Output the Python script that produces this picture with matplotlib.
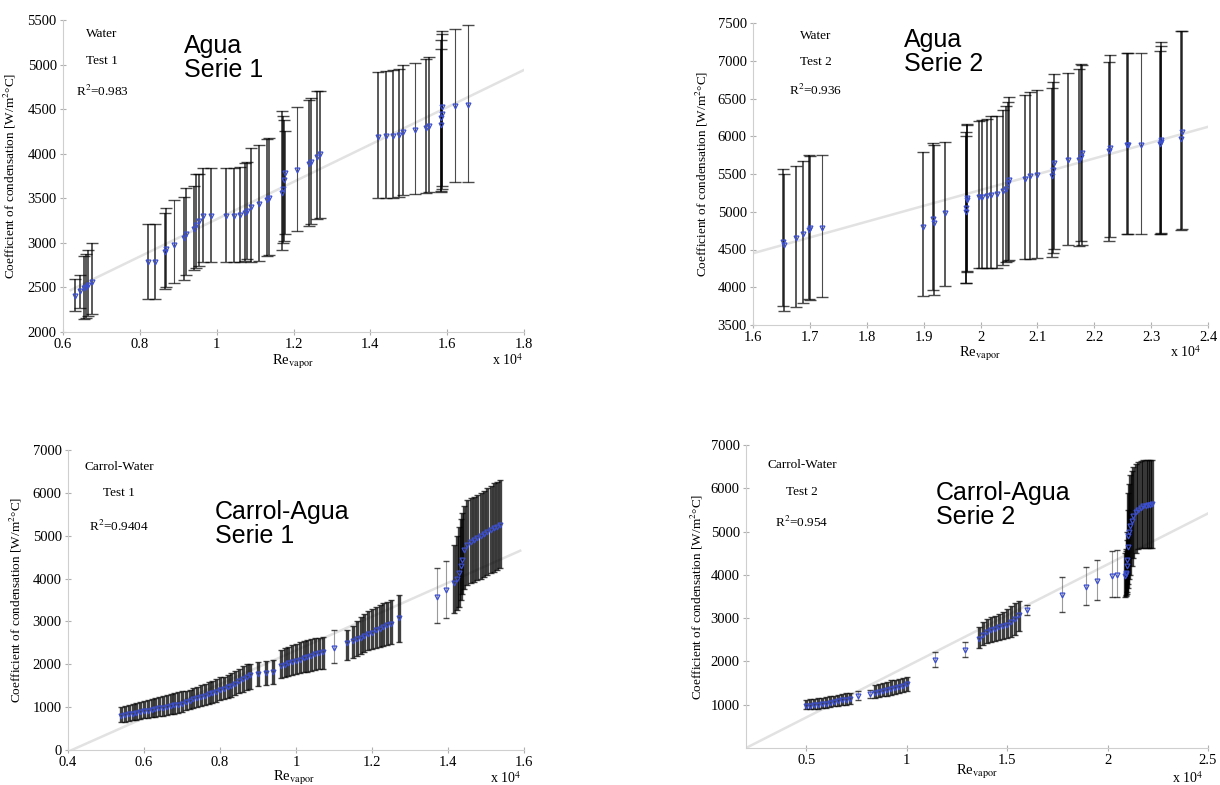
import numpy as np
import matplotlib.pyplot as plt

# Re_vapor values are in units of 1e4, h in W/m2C

# Water, test 1
re_w1 = [0.630, 0.645, 0.655, 0.660, 0.665, 0.675,
         0.820, 0.840, 0.865, 0.867, 0.890, 0.915, 0.920, 0.940, 0.945, 0.955, 0.965, 0.985,
         1.025, 1.045, 1.060, 1.075, 1.080, 1.090, 1.110, 1.130, 1.135,
         1.170, 1.172, 1.175, 1.178, 1.210, 1.240, 1.245, 1.260, 1.270,
         1.420, 1.440, 1.458, 1.475, 1.485, 1.515, 1.545, 1.552, 1.583, 1.585, 1.586, 1.587,
         1.620, 1.655]
h_w1 = [2400, 2460, 2490, 2510, 2530, 2560,
        2780, 2780, 2900, 2930, 2980, 3060, 3100, 3160, 3200, 3240, 3300, 3300,
        3300, 3300, 3310, 3330, 3360, 3400, 3440, 3480, 3500,
        3560, 3600, 3700, 3780, 3820, 3880, 3910, 3960, 4000,
        4190, 4200, 4200, 4210, 4240, 4270, 4290, 4310, 4320, 4400, 4450, 4520,
        4530, 4550]
lo_w1 = [2230, 2270, 2150, 2160, 2180, 2200,
         2370, 2370, 2480, 2500, 2550, 2580, 2640, 2690, 2720, 2740, 2780, 2780,
         2780, 2780, 2790, 2800, 2820, 2780, 2800, 2850, 2860,
         2920, 3000, 3020, 3100, 3130, 3190, 3210, 3270, 3280,
         3500, 3500, 3500, 3510, 3540, 3550, 3560, 3570, 3570, 3580, 3600, 3640,
         3680, 3680]
hi_w1 = [2600, 2640, 2850, 2880, 2920, 3000,
         3210, 3210, 3340, 3390, 3480, 3520, 3610, 3640, 3770, 3770, 3840, 3840,
         3840, 3840, 3850, 3900, 3910, 4060, 4100, 4160, 4180,
         4480, 4420, 4380, 4250, 4520, 4600, 4620, 4700, 4700,
         4920, 4930, 4940, 4950, 5000, 5020, 5060, 5080, 5180, 5280, 5340, 5380,
         5400, 5440]
fit_w1_x = [0.62, 1.80]
fit_w1_y = [2470, 4940]

# Water, test 2
re_w2 = [1.653, 1.655, 1.676, 1.688, 1.699, 1.700, 1.721,
         1.899, 1.916, 1.918, 1.938, 1.974, 1.975, 1.976, 1.977,
         1.997, 2.003, 2.011, 2.019, 2.029, 2.039, 2.045, 2.048, 2.050,
         2.079, 2.087, 2.100, 2.125, 2.127, 2.130, 2.153, 2.174, 2.176, 2.178,
         2.226, 2.228, 2.258, 2.260, 2.282, 2.315, 2.317, 2.318, 2.353, 2.355]
h_w2 = [4600, 4560, 4650, 4700, 4760, 4790, 4790,
        4800, 4910, 4850, 4980, 5000, 5050, 5150, 5180,
        5200, 5200, 5210, 5220, 5240, 5270, 5300, 5380, 5420,
        5440, 5480, 5490, 5480, 5550, 5650, 5690, 5690, 5720, 5780,
        5800, 5850, 5890, 5880, 5890, 5900, 5920, 5950, 5960, 6050]
lo_w2 = [3750, 3690, 3740, 3790, 3840, 3830, 3870,
         3880, 3960, 3900, 4020, 4050, 4060, 4220, 4200,
         4250, 4250, 4250, 4250, 4260, 4300, 4330, 4350, 4360,
         4370, 4380, 4390, 4400, 4450, 4510, 4560, 4540, 4610, 4560,
         4610, 4670, 4700, 4710, 4700, 4700, 4710, 4720, 4760, 4770]
hi_w2 = [5560, 5500, 5600, 5670, 5750, 5740, 5750,
         5790, 5910, 5880, 5930, 6000, 6050, 6160, 6150,
         6200, 6220, 6230, 6270, 6270, 6350, 6400, 6450, 6520,
         6550, 6590, 6610, 6640, 6720, 6830, 6840, 6890, 6960, 6950,
         6990, 7070, 7100, 7100, 7100, 7130, 7200, 7250, 7390, 7390]
fit_w2_x = [1.60, 2.40]
fit_w2_y = [4450, 6125]

# Carrol-water, test 1
re_c1 = [0.54, 0.55, 0.56, 0.57, 0.58, 0.59, 0.60, 0.61,
         0.62, 0.63, 0.64, 0.65, 0.66, 0.67, 0.68, 0.69, 0.70,
         0.71, 0.72, 0.73, 0.74, 0.75, 0.76, 0.77, 0.78, 0.79, 0.80,
         0.81, 0.82, 0.83, 0.84, 0.85, 0.86, 0.87, 0.88,
         0.90, 0.92, 0.94,
         0.96, 0.97, 0.98, 0.99, 1.00, 1.01, 1.02, 1.03, 1.04, 1.05, 1.06, 1.07,
         1.10,
         1.135, 1.15, 1.16, 1.17, 1.18, 1.19, 1.20, 1.21, 1.22, 1.23, 1.24, 1.25,
         1.27,
         1.371, 1.395,
         1.417, 1.423, 1.428, 1.433, 1.437, 1.443, 1.450, 1.460, 1.468, 1.477, 1.486,
         1.495, 1.503, 1.512, 1.521, 1.530, 1.538]
h_c1 = [790, 810, 830, 850, 870, 880, 900, 920,
        940, 950, 970, 980, 1000, 1020, 1040, 1060, 1080,
        1120, 1150, 1180, 1210, 1240, 1270, 1300, 1330, 1360, 1400,
        1420, 1460, 1500, 1550, 1600, 1650, 1700, 1740,
        1780, 1800, 1820,
        1960, 1990, 2020, 2050, 2080, 2110, 2140, 2170, 2200, 2230, 2260, 2290,
        2370,
        2500, 2540, 2580, 2620, 2660, 2700, 2740, 2790, 2830, 2870, 2910, 2950,
        3070,
        3580, 3730,
        3890, 4000, 4120, 4300, 4430, 4670, 4780, 4850, 4900, 4950, 4990,
        5040, 5090, 5130, 5170, 5210, 5250]
lo_c1 = [650, 660, 680, 700, 710, 720, 740, 750,
         770, 780, 800, 800, 820, 840, 850, 870, 890,
         930, 950, 980, 1000, 1030, 1050, 1080, 1100, 1130, 1160,
         1180, 1210, 1240, 1280, 1320, 1360, 1400, 1430,
         1500, 1520, 1550,
         1690, 1710, 1730, 1750, 1770, 1790, 1810, 1830, 1850, 1860, 1880, 1900,
         2020,
         2100, 2150, 2200, 2250, 2290, 2330, 2360, 2390, 2410, 2430, 2450, 2470,
         2530,
         2960, 3070,
         3190, 3260, 3340, 3500, 3650, 3750, 3850, 3890, 3930, 3960, 4000,
         4040, 4080, 4120, 4160, 4200, 4240]
hi_c1 = [1000, 1030, 1060, 1080, 1100, 1120, 1140, 1170,
         1200, 1220, 1240, 1250, 1280, 1300, 1330, 1350, 1380,
         1370, 1400, 1440, 1480, 1510, 1550, 1590, 1620, 1660, 1710,
         1700, 1750, 1800, 1850, 1900, 1950, 2000, 2000,
         2050, 2080, 2100,
         2330, 2380, 2410, 2450, 2480, 2510, 2540, 2570, 2600, 2610, 2620, 2640,
         2800,
         2800, 2900, 3000, 3100, 3180, 3240, 3280, 3330, 3380, 3420, 3460, 3490,
         3620,
         4240, 4410,
         4780, 5000, 5210, 5400, 5520, 5700, 5830, 5870, 5910, 5950, 5990,
         6050, 6110, 6160, 6220, 6260, 6300]
fit_c1_x = [0.41, 1.59]
fit_c1_y = [0, 4650]

# Carrol-water, test 2
re_c2 = [0.50, 0.52, 0.54, 0.56, 0.58, 0.60, 0.62, 0.64, 0.66, 0.68, 0.70, 0.72,
         0.758, 0.816,
         0.84, 0.86, 0.88, 0.90, 0.92, 0.94, 0.96, 0.98, 1.00,
         1.14, 1.29,
         1.36, 1.38, 1.40, 1.42, 1.44, 1.46, 1.48, 1.50, 1.52, 1.54, 1.56,
         1.597,
         1.771, 1.893, 1.946, 2.020, 2.045,
         2.088, 2.090, 2.092, 2.095, 2.098, 2.100, 2.103, 2.107, 2.112, 2.120,
         2.128, 2.140, 2.153, 2.165, 2.178, 2.190, 2.200, 2.211, 2.220]
h_c2 = [970, 980, 990, 1000, 1010, 1020, 1040, 1060, 1080, 1100, 1120, 1140,
        1210, 1250,
        1280, 1300, 1320, 1340, 1360, 1380, 1410, 1440, 1470,
        2040, 2270,
        2520, 2600, 2680, 2730, 2760, 2790, 2810, 2850, 2900, 2980, 3080,
        3190,
        3540, 3710, 3850, 3980, 4000,
        3980, 4020, 4040, 4200, 4350, 4650, 4890, 5000, 5120, 5250,
        5350, 5450, 5500, 5540, 5580, 5600, 5610, 5620, 5630]
lo_c2 = [890, 900, 905, 910, 920, 930, 940, 960, 980, 990, 1000, 1020,
         1115, 1150,
         1150, 1170, 1190, 1200, 1220, 1240, 1260, 1290, 1320,
         1870, 2110,
         2320, 2380, 2420, 2460, 2480, 2500, 2520, 2540, 2560, 2600, 2700,
         3080,
         3150, 3310, 3420, 3500, 3500,
         3500, 3520, 3540, 3560, 3600, 3700, 3800, 3900, 4000, 4200,
         4400, 4500, 4600, 4610, 4620, 4620, 4620, 4620, 4620]
hi_c2 = [1120, 1130, 1140, 1150, 1160, 1170, 1190, 1210, 1230, 1250, 1260, 1280,
         1310, 1350,
         1450, 1480, 1500, 1530, 1560, 1580, 1600, 1620, 1640,
         2220, 2460,
         2800, 2900, 2980, 3020, 3060, 3100, 3150, 3200, 3280, 3350, 3400,
         3300,
         3960, 4190, 4350, 4540, 4580,
         4500, 4550, 4600, 4800, 5000, 5500, 5900, 6100, 6300, 6400,
         6500, 6550, 6600, 6620, 6650, 6650, 6660, 6660, 6660]
fit_c2_x = [0.20, 2.50]
fit_c2_y = [0, 5420]

W, H = 1220, 785
BLUE = '#3b4fd0'
SERIF = 'Liberation Serif'
SANS = 'Liberation Sans'
plt.rcParams['mathtext.fontset'] = 'stix'


def fx(px):
    return px / W


def fy(py):
    return 1 - py / H


fig = plt.figure(figsize=(12.2, 7.85), dpi=100)


def panel(rect, re, h, lo, hi, fit_x, fit_y, xlim, xticks, xlabels, ylim, yticks,
          cap, elw, ylab_x):
    ax = fig.add_axes(rect)
    re = np.array(re)
    h = np.array(h)
    yerr = [h - np.array(lo), np.array(hi) - h]
    ax.plot(fit_x, fit_y, color='#e2e2e2', lw=1.8, zorder=1)
    cont = ax.errorbar(re, h, yerr=yerr, fmt='none', ecolor=(0, 0, 0, 0.7),
                       elinewidth=1.0, capsize=cap, capthick=1.0, zorder=2)
    # bars packed tightly together read as a dark band, lone bars stay thin
    gaps = np.diff(re)
    near = np.minimum(np.r_[np.inf, gaps], np.r_[gaps, np.inf])
    widths = np.where(near < 0.021, elw, 0.8)
    cont[2][0].set_linewidths(widths)
    if elw > 1.5:
        cont[2][0].set_color([(0, 0, 0, 0.75) if w > 1 else (0.35, 0.35, 0.35, 0.6)
                              for w in widths])
    ax.plot(re, h, 'v', ms=3.5, mfc='none', mec=BLUE, mew=0.9, zorder=3)
    ax.set_xlim(xlim)
    ax.set_ylim(ylim)
    ax.set_xticks(xticks)
    ax.set_xticklabels(xlabels)
    ax.set_yticks(yticks)
    ax.set_yticklabels([str(t) for t in yticks])
    for s in ['top', 'right']:
        ax.spines[s].set_visible(False)
    for s in ['left', 'bottom']:
        ax.spines[s].set_color('#cfcfcf')
    ax.tick_params(direction='inout', length=5, color='#b0b0b0', labelsize=10.5, pad=2)
    for lab in ax.get_xticklabels() + ax.get_yticklabels():
        lab.set_family(SERIF)
    ax.set_ylabel(r'Coefficient of condensation [W/m$^2$°C]', family=SERIF, fontsize=9.5)
    ax.yaxis.set_label_coords(ylab_x, 0.5)
    return ax


ax1 = panel([fx(63), fy(332), fx(524 - 63), (332 - 20) / H], re_w1, h_w1, lo_w1, hi_w1,
            fit_w1_x, fit_w1_y, (0.6, 1.8), [0.6, 0.8, 1.0, 1.2, 1.4, 1.6, 1.8],
            ['0.6', '0.8', '1', '1.2', '1.4', '1.6', '1.8'],
            (2000, 5500), list(range(2000, 5501, 500)), 4, 1.3, -0.098)
ax2 = panel([fx(753), fy(325), fx(1208 - 753), (325 - 23) / H], re_w2, h_w2, lo_w2, hi_w2,
            fit_w2_x, fit_w2_y, (1.6, 2.4), [1.6, 1.7, 1.8, 1.9, 2.0, 2.1, 2.2, 2.3, 2.4],
            ['1.6', '1.7', '1.8', '1.9', '2', '2.1', '2.2', '2.3', '2.4'],
            (3500, 7500), list(range(3500, 7501, 500)), 4, 1.3, -0.094)
ax3 = panel([fx(68), fy(750), fx(524 - 68), (750 - 450) / H], re_c1, h_c1, lo_c1, hi_c1,
            fit_c1_x, fit_c1_y, (0.4, 1.6), [0.4, 0.6, 0.8, 1.0, 1.2, 1.4, 1.6],
            ['0.4', '0.6', '0.8', '1', '1.2', '1.4', '1.6'],
            (0, 7000), list(range(0, 7001, 1000)), 2, 2.4, -0.096)
ax4 = panel([fx(746), fy(748), fx(1208 - 746), (748 - 445) / H], re_c2, h_c2, lo_c2, hi_c2,
            fit_c2_x, fit_c2_y, (0.2, 2.5), [0.5, 1.0, 1.5, 2.0, 2.5],
            ['0.5', '1', '1.5', '2', '2.5'],
            (0, 7000), list(range(1000, 7001, 1000)), 2, 2.4, -0.089)

# x axis labels and multipliers
for (xr, yr), (xm, ym) in [((293, 362), (508, 360)), ((980, 354), (1186, 352)),
                           ((294, 778), (506, 778)), ((977, 772), (1188, 778))]:
    fig.text(fx(xr), fy(yr), r'Re$_{\mathrm{vapor}}$', family=SERIF, fontsize=10.5,
             ha='center', va='center')
    fig.text(fx(xm), fy(ym), r'x 10$^4$', family=SERIF, fontsize=10, ha='center', va='center')

# small annotations (fluid, test, R2)
notes = [(102, [34, 61, 91], ['Water', 'Test 1', r'R$^2$=0.983']),
         (816, [36, 62, 90], ['Water', 'Test 2', r'R$^2$=0.936']),
         (119, [467, 493, 526], ['Carrol-Water', 'Test 1', r'R$^2$=0.9404']),
         (802, [465, 492, 522], ['Carrol-Water', 'Test 2', r'R$^2$=0.954'])]
for xc, ys, texts in notes:
    for yc, t in zip(ys, texts):
        fig.text(fx(xc), fy(yc), t, family=SERIF, fontsize=9.5, ha='center', va='center')

# big labels
bigs = [(184, 58, 'Agua\nSerie 1'), (904, 52, 'Agua\nSerie 2'),
        (215, 524, 'Carrol-Agua\nSerie 1'), (936, 505, 'Carrol-Agua\nSerie 2')]
for xl, yc, t in bigs:
    fig.text(fx(xl), fy(yc), t, family=SANS, fontsize=18, ha='left', va='center',
             linespacing=1.0)

fig.savefig('out.png', dpi=100)
